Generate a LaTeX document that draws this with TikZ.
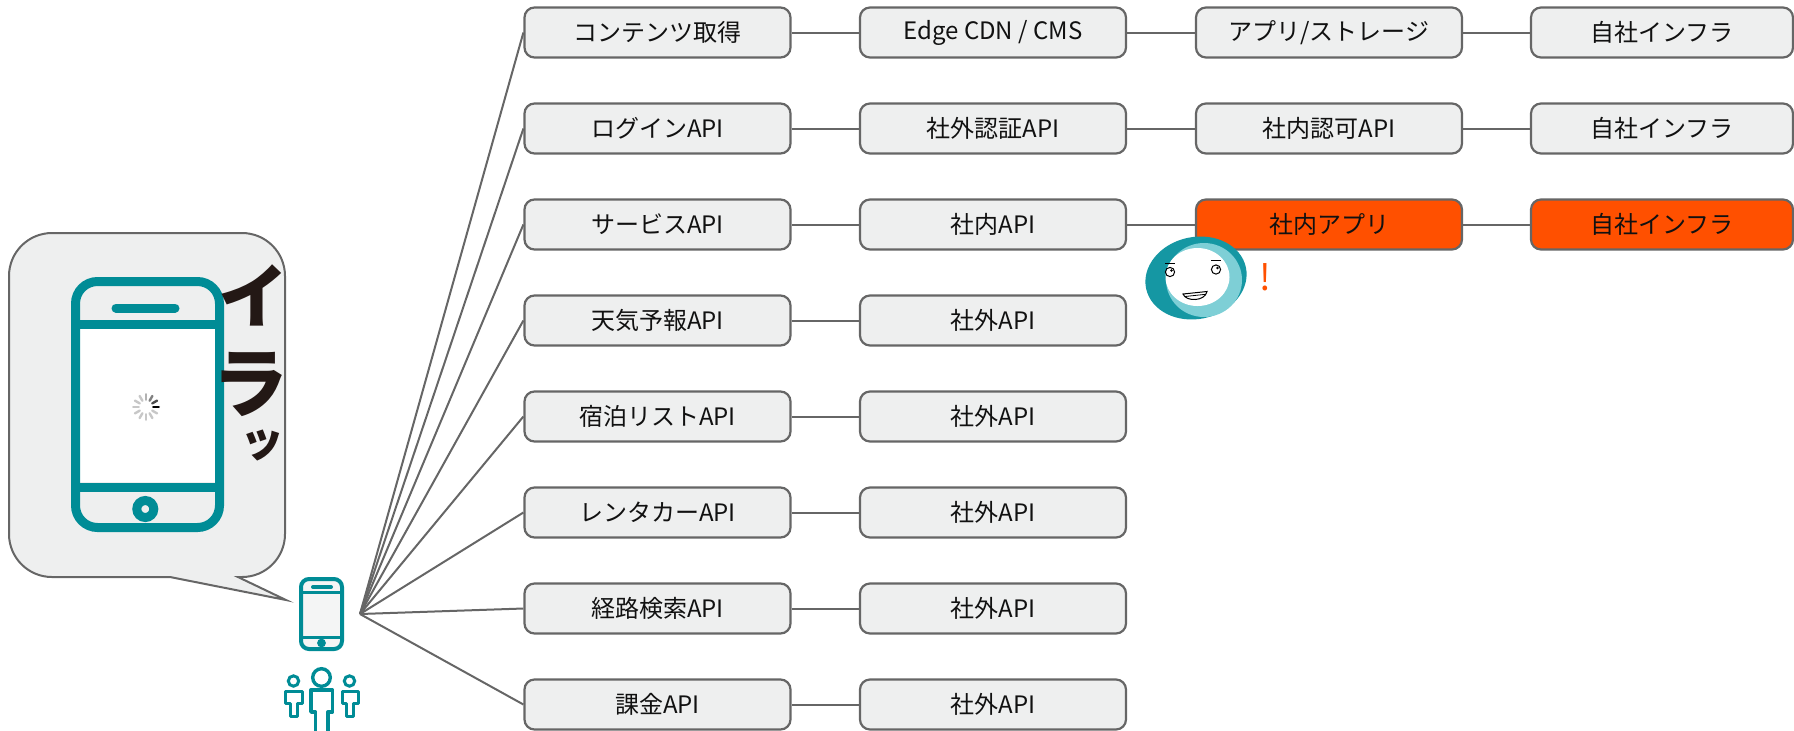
\documentclass[tikz,border=0pt]{standalone}
\usepackage{fontspec}
\setmainfont{Noto Sans CJK JP}
\definecolor{linegray}{HTML}{666666}
\definecolor{boxfill}{HTML}{EEEFEF}
\definecolor{hotorange}{HTML}{FF5000}
\definecolor{tealc}{HTML}{008C96}
\definecolor{facedark}{HTML}{1597A3}
\definecolor{facelight}{HTML}{7ECFD6}
\definecolor{txt}{HTML}{111111}
\definecolor{inkblack}{HTML}{231815}
\definecolor{phonefill}{HTML}{F4F5F5}
\begin{document}
\begin{tikzpicture}[x=0.5pt,y=-0.5pt,
  box/.style={draw=linegray, line width=1.1pt, fill=boxfill, rounded corners=5pt,
    minimum width=133pt, minimum height=25pt, inner sep=0pt, text=txt,
    font=\fontsize{12pt}{14pt}\selectfont},
  lastbox/.style={box, minimum width=131pt},
  hot/.style={fill=hotorange},
  link/.style={draw=linegray, line width=1pt},
  tealstroke/.style={draw=tealc, line width=#1},
  shout/.style={font=\fontsize{#1}{#1}\selectfont\bfseries, text=inkblack, inner sep=0pt}
]
\useasboundingbox (0,0) rectangle (1794,730);

% ---- service boxes ----
\node[box] (a1) at (657.5,32.5) {コンテンツ取得};
\node[box] (b1) at (993,32.5) {Edge CDN / CMS};
\node[box] (c1) at (1329,32.5) {アプリ/ストレージ};
\node[lastbox] (d1) at (1662,32.5) {自社インフラ};

\node[box] (a2) at (657.5,128.5) {ログインAPI};
\node[box] (b2) at (993,128.5) {社外認証API};
\node[box] (c2) at (1329,128.5) {社内認可API};
\node[lastbox] (d2) at (1662,128.5) {自社インフラ};

\node[box] (a3) at (657.5,224.5) {サービスAPI};
\node[box] (b3) at (993,224.5) {社内API};
\node[box,hot] (c3) at (1329,224.5) {社内アプリ};
\node[lastbox,hot] (d3) at (1662,224.5) {自社インフラ};

\node[box] (a4) at (657.5,320.5) {天気予報API};
\node[box] (b4) at (993,320.5) {社外API};
\node[box] (a5) at (657.5,416.5) {宿泊リストAPI};
\node[box] (b5) at (993,416.5) {社外API};
\node[box] (a6) at (657.5,512.5) {レンタカーAPI};
\node[box] (b6) at (993,512.5) {社外API};
\node[box] (a7) at (657.5,608.5) {経路検索API};
\node[box] (b7) at (993,608.5) {社外API};
\node[box] (a8) at (657.5,704.5) {課金API};
\node[box] (b8) at (993,704.5) {社外API};

% ---- connectors ----
\coordinate (hub) at (360,614);
\foreach \r in {1,...,8} {
  \draw[link] (hub) -- (a\r.west);
  \draw[link] (a\r.east) -- (b\r.west);
}
\foreach \r in {1,2,3} {
  \draw[link] (b\r.east) -- (c\r.west);
  \draw[link] (c\r.east) -- (d\r.west);
}

% ---- speech bubble ----
\draw[draw=linegray, line width=1pt, fill=boxfill]
  (170,577) -- (286,600) -- (238,577) [rounded corners=21.5pt] -- (285,577)
  -- (285,233) -- (9,233) -- (9,577) [sharp corners] -- cycle;

% large phone in the bubble
\fill[white] (80,329) rectangle (215,482);
\draw[tealstroke=4.5pt, rounded corners=11pt] (75.5,281.5) rectangle (219.5,527.5);
\draw[tealstroke=4.5pt] (75.5,324) -- (219.5,324);
\draw[tealstroke=4.5pt] (75.5,487) -- (219.5,487);
\draw[tealstroke=4.5pt, line cap=round] (116,308) -- (175,308);
\draw[tealstroke=4.5pt] (145.3,509) circle[radius=4.25pt];

% loading spinner
\foreach \a/\c in {0/black, 30/black!70, 60/black!50, 90/black!30, 120/black!22,
  150/black!22, 180/black!22, 210/black!22, 240/black!22, 270/black!22,
  300/black!22, 330/black!22} {
  \draw[\c, line width=1.2pt, line cap=round]
    ([shift={(\a:3.6pt)}]146,407) -- ([shift={(\a:6.4pt)}]146,407);
}

% vertical shout
\node[shout=35pt] (ira1) at (253,295) {イ};
\node[shout=38pt] (ira2) at (250,384) {ラ};
\node[shout=22pt] (ira3) at (262,445) {ッ};

% ---- small phone (user device) ----
\draw[tealstroke=2pt, rounded corners=4pt, fill=phonefill] (301,579) rectangle (342,649);
\draw[tealstroke=1.5pt] (301,592) -- (342,592);
\draw[tealstroke=1.5pt] (301,637) -- (342,637);
\draw[tealstroke=2pt, line cap=round] (313,587) -- (331,587);
\fill[tealc] (321.5,643) circle[radius=2.2pt];

% ---- users ----
\draw[tealstroke=1.7pt] (321.5,677.5) circle[radius=4.4pt];
\draw[tealstroke=1.7pt, line join=round]
  (311,690) -- (332.5,690) -- (332.5,712) -- (328,712) -- (328,734)
  -- (315.5,734) -- (315.5,712) -- (311,712) -- cycle;
\draw[tealstroke=1.5pt] (293.5,681) circle[radius=2.6pt];
\draw[tealstroke=1.5pt, line join=round]
  (285.5,691) -- (302,691) -- (302,703.5) -- (297.5,703.5) -- (297.5,716)
  -- (290,716) -- (290,703.5) -- (285.5,703.5) -- cycle;
\draw[tealstroke=1.5pt] (349.5,681) circle[radius=2.6pt];
\draw[tealstroke=1.5pt, line join=round]
  (342,691) -- (358,691) -- (358,703.5) -- (353.5,703.5) -- (353.5,716)
  -- (346.5,716) -- (346.5,703.5) -- (342,703.5) -- cycle;

% ---- surprised face ----
\fill[facedark, rotate around={12:(1196,278)}] (1196,278) ellipse [x radius=25.5pt, y radius=20.5pt];
\fill[facelight] (1204,280) ellipse [x radius=19pt, y radius=18.5pt];
\fill[white] (1197.5,277) ellipse [x radius=16pt, y radius=14.5pt];
\draw[black, line width=0.5pt] (1170,272) circle[radius=2.3pt];
\fill[black] (1171.5,270.5) circle[radius=0.7pt];
\draw[black, line width=0.6pt] (1165,263.3) -- (1175,263.3);
\draw[black, line width=0.5pt] (1216,269.5) circle[radius=2.3pt];
\fill[black] (1217.5,268) circle[radius=0.7pt];
\draw[black, line width=0.6pt] (1211,260.7) -- (1221,260.7);
\draw[black, line width=0.5pt, fill=white]
  (1183,294) -- (1207,291.5) .. controls (1205,301.5) and (1186,302) .. (1183,294) -- cycle;
\draw[black, line width=0.4pt] (1185,296.5) -- (1205.5,294.3);
\node[text=hotorange, font=\fontsize{18pt}{18pt}\selectfont, inner sep=0pt] (bang) at (1265,277) {!};

\end{tikzpicture}
\end{document}
